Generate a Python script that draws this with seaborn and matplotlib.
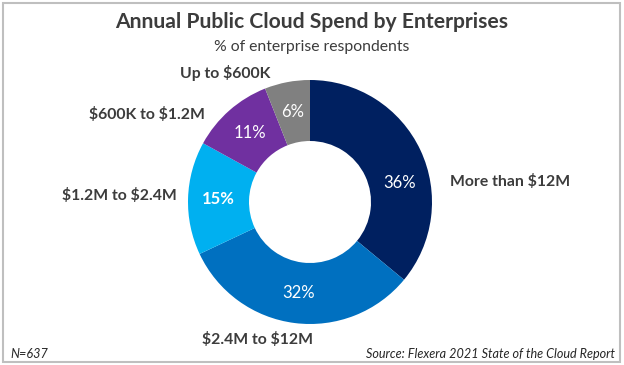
import numpy as np
import matplotlib
matplotlib.use("Agg")
import matplotlib.pyplot as plt
from matplotlib.patches import Rectangle
import seaborn as sns

# data
categories = ["More than $12M", "$2.4M to $12M", "$1.2M to $2.4M", "$600K to $1.2M", "Up to $600K"]
shares = [36, 32, 15, 11, 6]
pct_labels = ["36%", "32%", "15%", "11%", "6%"]

# style / layout (not data)
colors = sns.color_palette(["#002060", "#0070C0", "#00B0F0", "#7030A0", "#808080"])
label_pos = [(1.148, 0.164, "left"), (-0.434, -1.131, "center"), (-1.09, 0.057, "right"),
             (-0.861, 0.721, "right"), (-0.328, 1.057, "right")]
pct_angle_shift = [-13, 0, 0, 0, 0]
pct_bold = [False, False, True, False, False]

sns.set_theme(style="white")
plt.rcParams["font.family"] = ["Lato", "DejaVu Sans"]
plt.rcParams["text.parse_math"] = False  # dollar signs are literal

W, H = 624, 365
fig = plt.figure(figsize=(W / 100, H / 100), dpi=100)
fig.patch.set_facecolor("white")

cx, cy, r = 310, 202, 122
ax = fig.add_axes([(cx - r) / W, (H - cy - r) / H, 2 * r / W, 2 * r / H])
wedges, _ = ax.pie(shares, colors=colors, startangle=90, counterclock=False,
                   radius=1.0, wedgeprops=dict(width=0.5, linewidth=0))
ax.set_xlim(-1, 1)
ax.set_ylim(-1, 1)
ax.set_aspect("auto")
ax.axis("off")

text_col = "#3C3C3C"
for w, pct, shift, bold in zip(wedges, pct_labels, pct_angle_shift, pct_bold):
    ang = np.deg2rad((w.theta1 + w.theta2) / 2 + shift)
    ax.text(0.75 * np.cos(ang), 0.75 * np.sin(ang), pct, color="white",
            fontsize=12, fontweight="bold" if bold else "normal",
            ha="center", va="center")

for name, (x, y, ha) in zip(categories, label_pos):
    ax.text(x, y, name, ha=ha, va="center", fontsize=11.3, fontweight="bold", color=text_col)

fig.text(0.5, 1 - 22 / H, "Annual Public Cloud Spend by Enterprises", ha="center", va="center",
         fontsize=15.2, fontweight="bold", color=text_col)
fig.text(0.5, 1 - 47 / H, "% of enterprise respondents", ha="center", va="center",
         fontsize=11.3, color=text_col)
fig.text(10 / W, 1 - 354 / H, "N=637", ha="left", va="center", fontsize=9.1,
         style="italic", color="#262626")
fig.text(615 / W, 1 - 354 / H, "Source: Flexera 2021 State of the Cloud Report", ha="right",
         va="center", fontsize=9.1, style="italic", color="#262626")

fig.patches.append(Rectangle((3 / W, 3 / H), 617 / W, 359 / H, transform=fig.transFigure,
                             fill=False, edgecolor="#BFBFBF", linewidth=1.5))

fig.savefig("out.png", dpi=100)
